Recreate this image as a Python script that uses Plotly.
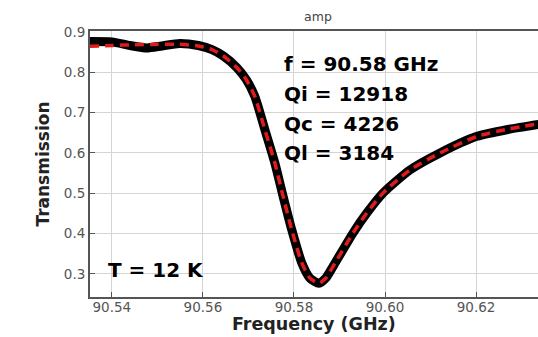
import plotly.graph_objects as go

# Measured transmission (|S21|) around the resonance
freq_data = [90.5352, 90.5400, 90.5440, 90.5477, 90.5510, 90.5549, 90.5590, 90.5620,
             90.5645, 90.5674, 90.5695, 90.5714, 90.5736, 90.5758, 90.5776, 90.5795,
             90.5817, 90.5835, 90.5855, 90.5870, 90.5886, 90.5930, 90.5960, 90.5996,
             90.6055, 90.6121, 90.6202, 90.6270, 90.6340]
trans_data = [0.876, 0.875, 0.866, 0.860, 0.865, 0.871, 0.866, 0.856,
              0.840, 0.812, 0.782, 0.740, 0.658, 0.575, 0.493, 0.410,
              0.328, 0.290, 0.277, 0.290, 0.319, 0.402, 0.451, 0.501,
              0.558, 0.600, 0.641, 0.658, 0.671]

# Resonator model fit
freq_fit = [90.5352, 90.5400, 90.5450, 90.5500, 90.5549, 90.5590, 90.5620,
            90.5645, 90.5674, 90.5695, 90.5714, 90.5736, 90.5758, 90.5776, 90.5795,
            90.5817, 90.5835, 90.5855, 90.5870, 90.5886, 90.5930, 90.5960, 90.5996,
            90.6055, 90.6121, 90.6202, 90.6270, 90.6340]
trans_fit = [0.864, 0.866, 0.868, 0.869, 0.869, 0.865, 0.856,
             0.840, 0.812, 0.782, 0.740, 0.658, 0.575, 0.493, 0.410,
             0.328, 0.290, 0.277, 0.290, 0.319, 0.402, 0.451, 0.501,
             0.558, 0.600, 0.641, 0.659, 0.673]

x_ticks = [90.54, 90.56, 90.58, 90.60, 90.62]
x_tick_labels = ["90.54", "90.56", "90.58", "90.60", "90.62"]
y_ticks = [0.3, 0.4, 0.5, 0.6, 0.7, 0.8, 0.9]
y_tick_labels = ["0.3", "0.4", "0.5", "0.6", "0.7", "0.8", "0.9"]

fit_params = ["f = 90.58 GHz", "Qi = 12918", "Qc = 4226", "Ql = 3184"]
temperature_label = "T = 12 K"
x_title = "Frequency (GHz)"

fig = go.Figure()
fig.add_trace(go.Scatter(x=freq_data, y=trans_data, mode="lines",
                         line=dict(color="black", width=9, shape="spline", smoothing=0.6),
                         showlegend=False))
fig.add_trace(go.Scatter(x=freq_fit, y=trans_fit, mode="lines",
                         line=dict(color="#e01b1b", width=3.5, dash="9px,6px",
                                   shape="spline", smoothing=0.6),
                         showlegend=False))

text_font = dict(family="DejaVu Sans", size=20, color="black")
for i, t in enumerate(fit_params):
    fig.add_annotation(x=0.428, y=0.875 - i * 0.1115, xref="paper", yref="paper",
                       text="<b>%s</b>" % t, showarrow=False, xanchor="left",
                       yanchor="middle", font=text_font)
fig.add_annotation(x=0.036, y=0.10, xref="paper", yref="paper",
                   text="<b>%s</b>" % temperature_label, showarrow=False,
                   xanchor="left", yanchor="middle", font=text_font)

# x-axis title placed just under the tick labels
fig.add_annotation(x=0.5, y=-0.147, xref="paper", yref="paper",
                   text="<b>%s</b>" % x_title, showarrow=False,
                   xanchor="center", yanchor="bottom",
                   font=dict(family="DejaVu Sans", size=17.5, color="#222222"))

axis_common = dict(showline=True, linecolor="#555555", linewidth=2,
                   ticks="inside", ticklen=5, tickcolor="#555555",
                   showgrid=True, gridcolor="#d4d4d4", gridwidth=1,
                   zeroline=False,
                   tickfont=dict(family="DejaVu Sans", size=13.5, color="#555555"))

fig.update_layout(
    width=538, height=337,
    margin=dict(l=90, r=0, t=31, b=40),
    plot_bgcolor="white", paper_bgcolor="white",
    title=dict(text="amp", x=0.591, xref="container", y=0.95, yref="container",
               xanchor="center", yanchor="middle",
               font=dict(family="DejaVu Sans", size=12.5, color="#444444")),
    xaxis=dict(range=[90.5352, 90.6336], tickvals=x_ticks, ticktext=x_tick_labels,
               mirror=True, ticklabelstandoff=-3,
               **axis_common),
    yaxis=dict(range=[0.243, 0.902], tickvals=y_ticks, ticktext=y_tick_labels,
               title=dict(text="<b>Transmission</b>", standoff=10,
                          font=dict(family="DejaVu Sans", size=17, color="#222222")),
               **axis_common),
)

fig.write_html("out.html")
